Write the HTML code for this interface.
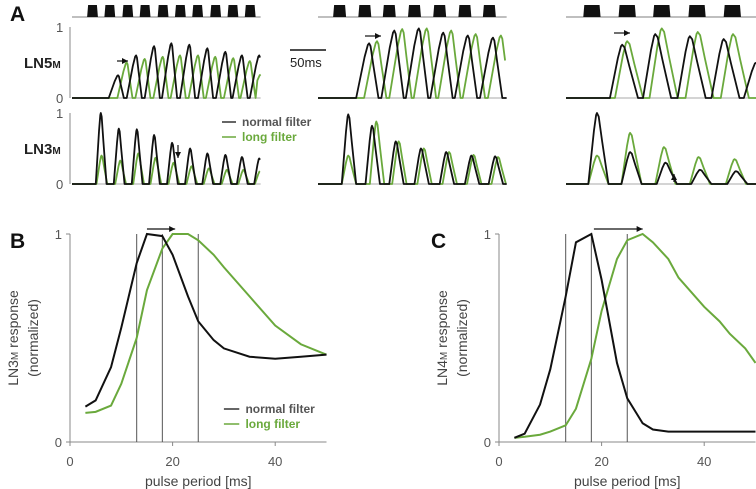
<!DOCTYPE html>
<html><head><meta charset="utf-8"><style>
body{margin:0;background:#fff}
svg{display:block;font-family:"Liberation Sans",sans-serif}
</style></head><body>
<svg id="fig" width="756" height="489" viewBox="0 0 756 489"></svg>
<script>
// ---------- Panel A data ----------
const groupX0 = [72, 318, 566];
const groupEnd = [262, 262, 264];
const pulseStarts = [
  [21,45,70,94,119,143,167,192,216,240],
  [21,56,90,125,160,195,229],
  [24,73,121,170,219]
];
const pulseWidths = [15, 18, 24];
const ln5BlackT = [[64,89,114,138,163,188,213,236,260],[71,106,140,174,208,243],[78,124,172,219,264]];
const ln5BlackV = [[.32,.6,.73,.77,.75,.7,.65,.6,.6],[.77,.95,.98,.92,.88,.85],[.75,.9,.87,.83,.5]];
const ln5GreenT = [[76,101,126,150,175,199,224,247,262],[82,117,151,185,219,254],[85,133,183,232]];
const ln5GreenV = [[.5,.55,.58,.6,.6,.58,.56,.52,.33],[.8,.97,.98,.95,.9,.88],[.8,.98,.93,.9]];
const ln3BlackT = [[40,65,90,114,139,164,188,213,236,260],[42,75,108,143,178,213,246],[43,89,138,186,236]];
const ln3BlackV = [[1,.78,.77,.69,.58,.5,.43,.41,.38,.36],[.98,.82,.6,.5,.45,.4,.39],[1,.45,.3,.2,.18]];
const ln3GreenT = [[41,67,92,116,141,166,190,215,238,261],[42,81,112,147,182,216,250],[43,89,136,184,234]];
const ln3GreenV = [[.4,.33,.43,.37,.3,.25,.22,.2,.2,.18],[.4,.88,.6,.5,.45,.41,.38],[.4,.72,.52,.38,.35]];
// ---------- Panel B/C data ----------
const periodsB = [3,5,8,10,13,15,18,20,23,25,28,30,35,40,45,50];
const bBlack = [.17,.2,.36,.55,.86,1,.99,.9,.7,.58,.49,.45,.41,.4,.41,.42];
const bGreen = [.14,.145,.175,.28,.5,.73,.93,1,1,.97,.9,.84,.7,.56,.47,.42];
const periodsC = [3,5,8,10,13,15,18,20,23,25,28,30,33,35,40,43,45,48,50];
const cBlack = [.02,.04,.18,.35,.7,.96,1,.78,.38,.21,.09,.06,.05,.05,.05,.05,.05,.05,.05];
const cGreen = [.02,.025,.035,.05,.08,.16,.4,.63,.88,.97,1,.96,.88,.79,.65,.58,.52,.45,.38];
const markerLines = [13,18,25];
const xTicks = [0,20,40];
const yTicks = [0,1];

const NS="http://www.w3.org/2000/svg", svg=document.getElementById('fig');
function el(tag, attrs, parent){const e=document.createElementNS(NS,tag);for(const k in attrs)e.setAttribute(k,attrs[k]);(parent||svg).appendChild(e);return e;}
function txt(x,y,s,attrs){const t=el('text',Object.assign({x:x,y:y,fill:'#333','font-size':13},attrs||{}));t.textContent=s;return t;}
const GREEN='#6aa93c', GRAY='#888';

// ---------- Panel A ----------
const pxPerMs=0.72;
const rowZero=[98,184], rowH=71;
const riseFall5=[[13,8],[18,13],[17,22]], riseFall3=[[7,8],[9,11],[12,16]];
function trace(g,row,T,V,rf,color,name){
  const E=groupEnd[g];
  const X=t=>groupX0[g]+Math.min(t,E)*pxPerMs, Y=v=>rowZero[row]-v*rowH;
  let pts=[[X(0),Y(0)]];
  let prevEnd=0;
  for(let i=0;i<T.length;i++){
    const t=T[i],v=V[i];
    let t0=Math.max(t-rf[0],prevEnd);
    const cand=[[t0,0],[t-0.35*rf[0],0.75*v],[t-0.1*rf[0],0.97*v],[t,v],[t+0.15*rf[1],0.95*v],[t+0.45*rf[1],0.6*v],[t+rf[1],0]];
    for(const c of cand){ if(c[0]<t0) continue; if(c[0]>E){break;} pts.push([X(c[0]),Y(c[1])]); }
    prevEnd=t+rf[1];
  }
  if(prevEnd<E) pts.push([X(E),Y(0)]);
  const p=el('polyline',{points:pts.map(p=>p.join(',')).join(' '),fill:'none',stroke:color,'stroke-width':1.8,'stroke-linejoin':'round'});
  
  
}
for(let g=0;g<3;g++){
  const X=t=>groupX0[g]+t*pxPerMs;
  const bl=el('line',{x1:X(0),x2:X(groupEnd[g]),y1:17,y2:17,stroke:'#999','stroke-width':1.2});
  
  
  pulseStarts[g].forEach(s=>{
    const r=el('polygon',{points:`${X(s)},17 ${X(s)+1},5 ${X(s+pulseWidths[g])-1},5 ${X(s+pulseWidths[g])},17`,fill:'#111'});
    
    
  });
  for(let row=0;row<2;row++){
    const a=el('line',{x1:X(0),x2:X(groupEnd[g]),y1:rowZero[row],y2:rowZero[row],stroke:'#aaa','stroke-width':1});
    
    
  }
  trace(g,0,ln5GreenT[g],ln5GreenV[g],riseFall5[g],GREEN,'ln5m-long-filter-trace');
  trace(g,0,ln5BlackT[g],ln5BlackV[g],riseFall5[g],'#111','ln5m-normal-filter-trace');
  trace(g,1,ln3GreenT[g],ln3GreenV[g],riseFall3[g],GREEN,'ln3m-long-filter-trace');
  trace(g,1,ln3BlackT[g],ln3BlackV[g],riseFall3[g],'#111','ln3m-normal-filter-trace');
}
for(let row=0;row<2;row++){
  const ax=el('line',{x1:70,x2:70,y1:rowZero[row]-rowH,y2:rowZero[row],stroke:GRAY,'stroke-width':1});
  
  
  txt(56,rowZero[row]-rowH+5,'1',{fill:'#555'});
  txt(56,rowZero[row]+5,'0',{fill:'#555'});
}
txt(10,21,'A',{'font-size':21,'font-weight':'bold',fill:'#111'});
const l5=txt(24,68,'LN5',{'font-size':15,'font-weight':'bold',fill:'#222'});
const s5=el('tspan',{'font-size':10},l5);s5.textContent='M';
const l3=txt(24,154,'LN3',{'font-size':15,'font-weight':'bold',fill:'#222'});
const s3=el('tspan',{'font-size':10},l3);s3.textContent='M';
el('line',{x1:290,x2:326,y1:50,y2:50,stroke:'#111','stroke-width':1.5});
txt(290,67,'50ms',{'font-size':13,fill:'#222'});
// legend A
el('line',{x1:222,x2:236,y1:122,y2:122,stroke:'#333','stroke-width':1.5});
txt(242,126,'normal filter',{'font-size':12,'font-weight':'bold',fill:'#555'});
el('line',{x1:222,x2:236,y1:137,y2:137,stroke:GREEN,'stroke-width':1.5});
txt(242,141,'long filter',{'font-size':12,'font-weight':'bold',fill:GREEN});
// arrows
function arrow(x1,y1,x2,y2,name){
  const g=el('g',{});
  el('line',{x1:x1,y1:y1,x2:x2,y2:y2,stroke:'#111','stroke-width':1.2},g);
  const ang=Math.atan2(y2-y1,x2-x1),L=6,W=3;
  const bx=x2-L*Math.cos(ang),by=y2-L*Math.sin(ang);
  el('polygon',{points:`${x2},${y2} ${bx-W*Math.sin(ang)},${by+W*Math.cos(ang)} ${bx+W*Math.sin(ang)},${by-W*Math.cos(ang)}`,fill:'#111'},g);
}
arrow(117,61,128,61,'shift-arrow-left');
arrow(365,36,381,36,'shift-arrow-middle');
arrow(614,33,630,33,'shift-arrow-right');
arrow(178,145,178,158,'down-arrow');
arrow(674,182,674,174,'up-arrow');

// ---------- Panels B & C ----------
function panel(x0,label,per,blk,grn,title,arrowFrom,arrowTo,legend){
  const X=v=>x0+v*5.13, Y=v=>442-v*208;
  const ax=el('polyline',{points:`${X(0)},${Y(1)} ${X(0)},${Y(0)} ${X(50)},${Y(0)}`,fill:'none',stroke:GRAY,'stroke-width':1});
  
  xTicks.forEach(t=>{
    el('line',{x1:X(t),x2:X(t),y1:442,y2:446,stroke:GRAY});
    txt(X(t),466,String(t),{'text-anchor':'middle','font-size':13,fill:'#555'});
  });
  yTicks.forEach(t=>{
    el('line',{x1:X(0)-4,x2:X(0),y1:Y(t),y2:Y(t),stroke:GRAY});
    txt(X(0)-8,Y(t)+5,String(t),{'text-anchor':'end','font-size':13,fill:'#555'});
  });
  txt(X(25),486,'pulse period [ms]',{'text-anchor':'middle','font-size':14,fill:'#444'});
  const yt=txt(0,0,title,{'text-anchor':'middle','font-size':14,fill:'#444',transform:`translate(${x0-52},338) rotate(-90)`});
  
  const sub=el('tspan',{'font-size':10},yt);sub.textContent='M';
  const rest=el('tspan',{},yt);rest.textContent=' response';
  const yt2=txt(0,0,'(normalized)',{'text-anchor':'middle','font-size':14,fill:'#444',transform:`translate(${x0-32},338) rotate(-90)`});
  
  markerLines.forEach(m=>{
    const l=el('line',{x1:X(m),x2:X(m),y1:Y(1),y2:Y(0),stroke:'#555','stroke-width':1});
    
  });
  const pg=el('polyline',{points:per.map((p,i)=>X(p)+','+Y(grn[i])).join(' '),fill:'none',stroke:GREEN,'stroke-width':2});
  
  const pb=el('polyline',{points:per.map((p,i)=>X(p)+','+Y(blk[i])).join(' '),fill:'none',stroke:'#111','stroke-width':2});
  
  arrow(X(arrowFrom),229,X(arrowTo),229,label+'-shift-arrow');
  if(legend){
    el('line',{x1:X(30),x2:X(33),y1:409,y2:409,stroke:'#333','stroke-width':1.5});
    txt(X(34.2),413,'normal filter',{'font-size':12,'font-weight':'bold',fill:'#555'});
    el('line',{x1:X(30),x2:X(33),y1:424,y2:424,stroke:GREEN,'stroke-width':1.5});
    txt(X(34.2),428,'long filter',{'font-size':12,'font-weight':'bold',fill:GREEN});
  }
}
panel(70,'b',periodsB,bBlack,bGreen,'LN3',15,20.5,true);
panel(499,'c',periodsC,cBlack,cGreen,'LN4',18.5,28,false);
txt(10,248,'B',{'font-size':21,'font-weight':'bold',fill:'#111'});
txt(431,248,'C',{'font-size':21,'font-weight':'bold',fill:'#111'});
</script>
</body></html>
